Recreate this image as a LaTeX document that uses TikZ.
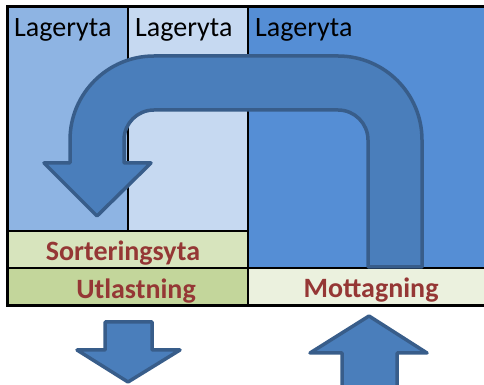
\documentclass[tikz,border=0pt]{standalone}
\usepackage{fontspec}
\setmainfont{Carlito}
\definecolor{colA}{HTML}{8EB4E3}
\definecolor{colB}{HTML}{C6D9F1}
\definecolor{colC}{HTML}{558ED5}
\definecolor{sortc}{HTML}{D7E4BD}
\definecolor{utlc}{HTML}{C3D69B}
\definecolor{motc}{HTML}{EBF1DE}
\definecolor{txtred}{HTML}{953735}
\definecolor{arrfill}{HTML}{4A7EBB}
\definecolor{arredge}{HTML}{385D8A}
\tikzset{
  area/.style={anchor=base west, inner sep=0pt, font=\fontsize{28}{30}\selectfont, text=black},
  zone/.style={anchor=base, inner sep=0pt, font=\fontsize{28}{30}\selectfont\bfseries, text=txtred},
  bigarrow/.style={fill=arrfill, draw=arredge, line width=3.5pt, line join=round},
  grid/.style={draw=black, line width=1.6pt},
  frame/.style={draw=black, line width=3pt}
}
\begin{document}
\begin{tikzpicture}[x=1pt,y=1pt]
\useasboundingbox (0,0) rectangle (484,385);
\clip (0,0) rectangle (484,385);
% cells
\fill[colA] (7,154) rectangle (128,378);
\fill[colB] (128,154) rectangle (248,378);
\fill[colC] (248,117) rectangle (490,378);
\fill[sortc] (7,117) rectangle (248,154);
\fill[utlc] (7,79) rectangle (248,117);
\fill[motc] (248,79) rectangle (490,117);
% grid lines
\draw[grid] (128,378) -- (128,154);
\draw[grid] (248,378) -- (248,79);
\draw[grid] (7,154) -- (248,154);
\draw[grid] (7,117) -- (490,117);
\draw[frame] (490,378) -- (7,378) -- (7,79) -- (490,79);
% U-shaped arrow
\draw[bigarrow] (422,118) -- (422,245) arc[start angle=0, end angle=90, radius=84]
  -- (154,329) arc[start angle=90, end angle=180, radius=84]
  -- (70,222) -- (44,222) -- (97,169) -- (151,222) -- (124,222) -- (124,245)
  arc[start angle=180, end angle=90, radius=30]
  -- (338,275) arc[start angle=90, end angle=0, radius=30]
  -- (368,118) -- cycle;
% down arrow (out)
\draw[bigarrow] (105,63) -- (152,63) -- (152,35) -- (180,35) -- (128,3) -- (77,35) -- (105,35) -- cycle;
% up arrow (in)
\draw[bigarrow] (342,-10) -- (342,32) -- (310,32) -- (369,69) -- (427,32) -- (397,32) -- (397,-10) -- cycle;
% texts
\node[area] (l1) at (14,348) {Lageryta};
\node[area] (l2) at (135,348) {Lageryta};
\node[area] (l3) at (255,348) {Lageryta};
\node[zone] (sort) at (123,124) {Sorteringsyta};
\node[zone] (utl) at (136,86) {Utlastning};
\node[zone] (mot) at (371,87) {Mottagning};
\end{tikzpicture}
\end{document}
